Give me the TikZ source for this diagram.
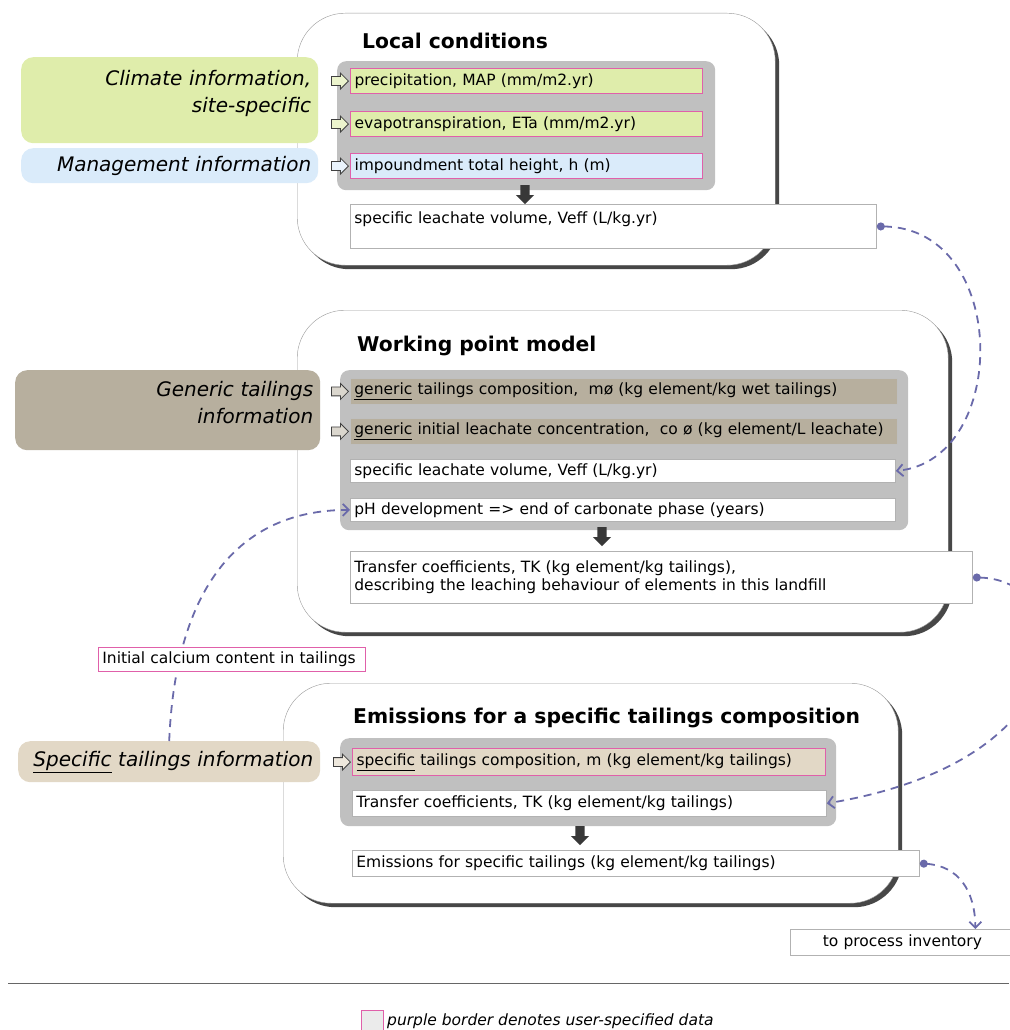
\documentclass[tikz,border=0pt]{standalone}
\usepackage{fontspec}
\setmainfont{DejaVu Sans}
\usepackage{xcolor}
\usetikzlibrary{positioning,shapes.arrows,shadows,arrows.meta}

\definecolor{panelgray}{HTML}{C0C0C0}
\definecolor{climgreen}{HTML}{DFEDAB}
\definecolor{mgmtblue}{HTML}{DAEBFA}
\definecolor{gentan}{HTML}{B7AF9E}
\definecolor{specbeige}{HTML}{E2D8C6}
\definecolor{userpink}{HTML}{E060AA}
\definecolor{linkblue}{HTML}{6A6AAA}

\newcommand{\rowfont}{\fontsize{15.5}{18}\selectfont}
\newcommand{\infofont}{\fontsize{20}{27}\selectfont\itshape}
\newcommand{\titlefont}{\fontsize{20.3}{24}\selectfont\bfseries}

\begin{document}
\begin{tikzpicture}[x=1pt, y=-1pt,
    outer/.style={draw=black!40, fill=white, rounded corners=48pt, anchor=north west,
        drop shadow={shadow xshift=4pt, shadow yshift=-4pt, fill=black!80, opacity=0.9}},
    title/.style={anchor=base west, inner sep=0pt, font=\titlefont},
    info/.style={anchor=north west, rounded corners=12pt, align=right, inner xsep=7pt, font=\infofont},
    panel/.style={anchor=north west, fill=panelgray, rounded corners=9pt},
    row/.style={anchor=north west, align=left, inner xsep=4pt, inner ysep=2pt, font=\rowfont},
    userrow/.style={row, draw=userpink, line width=1.1pt},
    plainrow/.style={row, draw=black!30, fill=white, line width=0.8pt},
    genrow/.style={row, draw=black!25, fill=gentan, line width=0.8pt},
    inarrow/.style={single arrow, draw=black!75, fill=white, line width=0.8pt, minimum height=17pt, minimum width=16pt,
        single arrow head extend=3.5pt, inner sep=4pt},
    downarrow/.style={single arrow, shape border rotate=270, fill=black!78, anchor=north,
        minimum height=19pt, minimum width=18pt, single arrow head extend=4.5pt, inner sep=4.5pt},
    link/.style={draw=linkblue, line width=1.8pt, dash pattern=on 8pt off 6pt,
        {Circle[length=8pt]}-{Straight Barb[length=6pt, width=12pt]}},
]
    \useasboundingbox (0,0) rectangle (1009,1030);

    % Local conditions
    \node[outer, minimum width=478pt, minimum height=252pt] (localbox) at (297,13) {};
    \node[title] (localtitle) at (362,49) {Local conditions};
    \node[info, fill=climgreen, minimum width=297pt, minimum height=86pt, text width=283pt] (climate) at (21,57) {Climate information,\\site-specific\\[-9pt]\mbox{}};
    \node[info, fill=mgmtblue, minimum width=297pt, minimum height=35pt, text width=283pt] (mgmt) at (21,148) {Management information};
    \node[panel, minimum width=378pt, minimum height=129pt] (localpanel) at (337,61) {};
    \node[userrow, fill=climgreen, minimum width=352pt, minimum height=25pt, text width=344pt] (precip) at (350,68) {precipitation, MAP (mm/m2.yr)};
    \node[userrow, fill=climgreen, minimum width=352pt, minimum height=25pt, text width=344pt] (evapo) at (350,111) {evapotranspiration, ETa (mm/m2.yr)};
    \node[userrow, fill=mgmtblue, minimum width=352pt, minimum height=25pt, text width=344pt] (height) at (350,153) {impoundment total height, h (m)};
    \node[inarrow, fill=climgreen!60, left=1pt of precip] (precipin) {};
    \node[inarrow, fill=climgreen!60, left=1pt of evapo] (evapoin) {};
    \node[inarrow, fill=mgmtblue!60, left=1pt of height] (heightin) {};
    \node[downarrow] (localdown) at (525,185) {};
    \node[plainrow, minimum width=526pt, minimum height=44pt, text width=518pt] (veffA) at (350,204) {specific leachate volume, Veff (L/kg.yr)\\\mbox{}};

    % Working point model
    \node[outer, minimum width=651pt, minimum height=322pt] (workbox) at (297,310) {};
    \node[title] (worktitle) at (357,351) {Working point model};
    \node[info, fill=gentan, minimum width=305pt, minimum height=80pt, text width=291pt] (generic) at (15,370) {Generic tailings\\information\\[-11pt]\mbox{}};
    \node[panel, minimum width=568pt, minimum height=160pt] (workpanel) at (340,370) {};
    \node[genrow, minimum width=547pt, minimum height=26pt, text width=539pt] (gencomp) at (350,378) {\underline{generic} tailings composition,\ \ mø (kg element/kg wet tailings)};
    \node[genrow, minimum width=547pt, minimum height=26pt, text width=539pt] (genconc) at (350,418) {\underline{generic} initial leachate concentration,\ \ co ø (kg element/L leachate)};
    \node[inarrow, fill=gentan!50, left=1pt of gencomp] (gencompin) {};
    \node[inarrow, fill=gentan!50, left=1pt of genconc] (genconcin) {};
    \node[plainrow, minimum width=545pt, minimum height=23pt, text width=537pt] (veffB) at (350,459) {specific leachate volume, Veff (L/kg.yr)};
    \node[plainrow, minimum width=545pt, minimum height=23pt, text width=537pt] (ph) at (350,498) {pH development => end of carbonate phase (years)};
    \node[downarrow] (workdown) at (602,527) {};
    \node[plainrow, minimum width=622pt, minimum height=52pt, text width=614pt] (tkB) at (350,551) {Transfer coefficients, TK (kg element/kg tailings),\\describing the leaching behaviour of elements in this landfill};

    % Emissions for a specific tailings composition
    \node[outer, minimum width=615pt, minimum height=220pt] (emisbox) at (283,683) {};
    \node[title] (emistitle) at (353,723) {Emissions for a specific tailings composition};
    \node[info, fill=specbeige, minimum width=302pt, minimum height=41pt, text width=288pt] (specific) at (18,741) {\underline{Specific} tailings information};
    \node[panel, minimum width=496pt, minimum height=88pt] (emispanel) at (340,738) {};
    \node[userrow, fill=specbeige, minimum width=473pt, minimum height=27pt, text width=465pt] (speccomp) at (352,748) {\underline{specific} tailings composition, m (kg element/kg tailings)};
    \node[inarrow, fill=specbeige!60, left=1pt of speccomp] (speccompin) {};
    \node[plainrow, minimum width=474pt, minimum height=26pt, text width=466pt] (tkA) at (352,790) {Transfer coefficients, TK (kg element/kg tailings)};
    \node[downarrow] (emisdown) at (580,826) {};
    \node[plainrow, minimum width=567pt, minimum height=26pt, text width=559pt] (emis) at (352,850) {Emissions for specific tailings (kg element/kg tailings)};
    \node[plainrow, align=center, minimum width=224pt, minimum height=26pt, text width=216pt] (inventory) at (790,929) {to process inventory};

    % Connections
    \draw[link] (veffA.east) .. controls (1010,228) and (1010,460) .. (veffB.east);
    \draw[link] (tkB.east) .. controls (1080,580) and (1090,760) .. (tkA.east);
    \draw[link] (emis.east) .. controls (958,866) and (975,890) .. ([xshift=73pt]inventory.north);
    \draw[link, -{Straight Barb[length=6pt, width=12pt]}] (specific.north) .. controls (175,600) and (230,510) .. (ph.west);
    \node[row, draw=userpink, fill=white, line width=0.8pt, minimum width=267pt, minimum height=24pt, text width=259pt] (calcium) at (98,647) {Initial calcium content in tailings};

    % Legend
    \draw[black!60, line width=1pt] (8,983) -- (1009,983);
    \node[anchor=north west, draw=userpink, fill=black!8, line width=1pt, minimum width=22pt, minimum height=22pt] (key) at (361,1010) {};
    \node[right=3pt of key, inner sep=0pt, font=\fontsize{15.5}{18}\selectfont\itshape] (keytext) {purple border denotes user-specified data};
\end{tikzpicture}
\end{document}
